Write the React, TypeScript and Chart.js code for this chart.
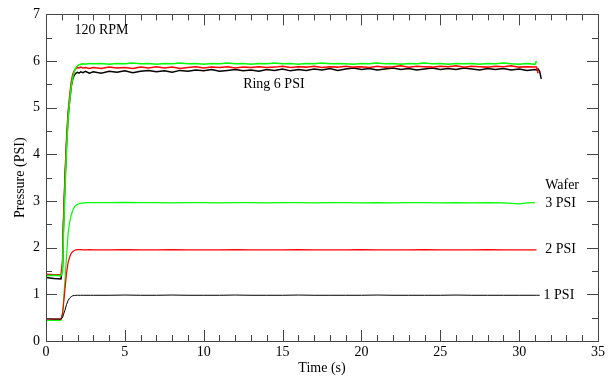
import React, { useEffect, useRef } from "react";
import { Chart, registerables } from "chart.js";

Chart.register(...registerables);

// ---- Ring pressure (top curves) ----
const ringTime = [
  0, 0.5, 0.95, 1.05, 1.1, 1.2, 1.3, 1.4, 1.5, 1.6, 1.7, 1.8, 1.9, 2.0, 2.1, 2.2, 2.35, 2.5, 2.75,
  3.0, 3.5, 4.0, 4.5, 5.0, 5.5, 6.0, 6.5, 7.0, 7.5, 8.0, 8.5, 9.0, 9.5, 10.0, 10.5, 11.0, 11.5, 12.0, 12.5,
  13.0, 13.5, 14.0, 14.5, 15.0, 15.5, 16.0, 16.5, 17.0, 17.5, 18.0, 18.5, 19.0, 19.5, 20.0, 20.5, 21.0, 21.5,
  22.0, 22.5, 23.0, 23.5, 24.0, 24.5, 25.0, 25.5, 26.0, 26.5, 27.0, 27.5, 28.0, 28.5, 29.0, 29.5, 30.0, 30.5,
  31.0, 31.1, 31.2, 31.3, 31.4,
];
const ringBlack = [
  1.36, 1.34, 1.33, 1.6, 2.4, 3.4, 4.2, 4.8, 5.15, 5.45, 5.62, 5.7, 5.74, 5.76, 5.74, 5.77, 5.75, 5.78, 5.74,
  5.77, 5.74, 5.78, 5.76, 5.79, 5.75, 5.78, 5.8, 5.77, 5.79, 5.76, 5.8, 5.78, 5.81, 5.79, 5.82, 5.78, 5.8, 5.82, 5.79,
  5.81, 5.78, 5.82, 5.8, 5.83, 5.79, 5.82, 5.8, 5.83, 5.81, 5.84, 5.8, 5.83, 5.85, 5.82, 5.84, 5.81, 5.83,
  5.85, 5.82, 5.84, 5.81, 5.83, 5.85, 5.82, 5.84, 5.82, 5.85, 5.83, 5.81, 5.84, 5.82, 5.84, 5.81, 5.83, 5.8,
  5.82, 5.81, 5.83, 5.78, 5.62,
];
const ringRed = [
  1.43, 1.42, 1.42, 1.7, 2.5, 3.5, 4.3, 4.9, 5.25, 5.55, 5.72, 5.8, 5.84, 5.86, 5.85, 5.87, 5.85, 5.86, 5.84,
  5.86, 5.84, 5.87, 5.85, 5.86, 5.84, 5.87, 5.85, 5.88, 5.85, 5.87, 5.84, 5.86, 5.88, 5.85, 5.87, 5.86, 5.88, 5.85, 5.87,
  5.86, 5.88, 5.86, 5.87, 5.89, 5.86, 5.88, 5.87, 5.89, 5.86, 5.88, 5.87, 5.89, 5.87, 5.88, 5.86, 5.89, 5.87,
  5.88, 5.9, 5.87, 5.89, 5.88, 5.87, 5.89, 5.88, 5.9, 5.87, 5.89, 5.88, 5.87, 5.89, 5.88, 5.9, 5.87, 5.88,
  5.87, 5.87, 5.74, null, null,
];
const ringGreen = [
  1.4, 1.41, 1.4, 1.5, 2.2, 3.2, 4.1, 4.75, 5.15, 5.45, 5.65, 5.78, 5.86, 5.9, 5.92, 5.93, 5.94, 5.93, 5.95,
  5.94, 5.95, 5.93, 5.95, 5.94, 5.96, 5.94, 5.95, 5.93, 5.95, 5.94, 5.96, 5.94, 5.95, 5.93, 5.95, 5.94, 5.96, 5.94, 5.95,
  5.93, 5.95, 5.94, 5.96, 5.94, 5.95, 5.93, 5.95, 5.94, 5.96, 5.94, 5.95, 5.94, 5.93, 5.95, 5.94, 5.96, 5.94,
  5.95, 5.93, 5.95, 5.94, 5.96, 5.94, 5.95, 5.93, 5.95, 5.94, 5.95, 5.93, 5.95, 5.94, 5.96, 5.94, 5.93, 5.95,
  5.93, 6.0, null, null, null,
];

// ---- Wafer pressure (lower curves) ----
const waferTime = [
  0, 0.5, 0.95, 1.05, 1.1, 1.2, 1.3, 1.4, 1.5, 1.6, 1.7, 1.8, 1.9, 2.0, 2.2, 2.4, 2.6, 2.8, 3.0,
  4, 5, 6, 7, 8, 9, 10, 11, 12, 13, 14, 15, 16, 17, 18, 19, 20, 21, 22, 23, 24, 25, 26, 27, 28, 29, 30, 30.5, 31.0, 31.1, 31.3,
];
const waferBlack = [
  0.48, 0.47, 0.47, 0.5, 0.56, 0.66, 0.78, 0.87, 0.92, 0.95, 0.97, 0.975, 0.98, 0.98, 0.98, 0.98, 0.98, 0.98, 0.98,
  0.98, 0.985, 0.98, 0.98, 0.985, 0.98, 0.98, 0.98, 0.985, 0.98, 0.98, 0.98, 0.985, 0.98, 0.98, 0.98, 0.98, 0.985, 0.98, 0.98, 0.98, 0.98, 0.985, 0.98, 0.98, 0.98, 0.98, 0.98, 0.98, 0.98, 0.98,
];
const waferRed = [
  0.47, 0.47, 0.47, 0.6, 0.75, 1.1, 1.45, 1.68, 1.8, 1.88, 1.92, 1.94, 1.955, 1.96, 1.96, 1.955, 1.955, 1.96, 1.955,
  1.955, 1.96, 1.955, 1.955, 1.96, 1.955, 1.955, 1.955, 1.96, 1.955, 1.955, 1.955, 1.96, 1.955, 1.955, 1.955, 1.96, 1.955, 1.955, 1.955, 1.96, 1.955, 1.955, 1.955, 1.96, 1.955, 1.955, 1.955, 1.955, 1.955, null,
];
const waferGreen = [
  0.44, 0.44, 0.44, 0.55, 0.8, 1.3, 1.8, 2.3, 2.55, 2.7, 2.8, 2.87, 2.91, 2.93, 2.95, 2.96, 2.965, 2.965, 2.965,
  2.965, 2.97, 2.965, 2.965, 2.96, 2.965, 2.965, 2.96, 2.965, 2.965, 2.96, 2.965, 2.965, 2.96, 2.965, 2.965, 2.96, 2.965, 2.96, 2.965, 2.965, 2.96, 2.965, 2.96, 2.965, 2.96, 2.94, 2.96, 2.965, null, null,
];

// ---- Axis settings ----
const xMin = 0;
const xMax = 35;
const xMajorStep = 5;
const xMinorPerMajor = 5;
const yMin = 0;
const yMax = 7;
const yMajorStep = 1;
const yMinorPerMajor = 2;

// ---- Text annotations (data coordinates) ----
const annotationTexts = ["120 RPM", "Ring 6 PSI", "Wafer", "3 PSI", "2 PSI", "1 PSI"];
const annotationX = [1.8, 12.5, 31.65, 31.65, 31.65, 31.55];
const annotationY = [6.66, 5.5, 3.34, 2.95, 1.97, 0.98];

const SERIF = "'Liberation Serif', 'DejaVu Serif', serif";
const GREEN = "#00ff00";
const RED = "#ff0000";
const BLACK = "#000000";

const toPoints = (xs: number[], ys: (number | null)[]) =>
  xs.map((x, i) => ({ x, y: ys[i] as number | null }));

const framePlugin = {
  id: "frameTicks",
  afterDatasetsDraw(chart: any) {
    const { ctx, chartArea, scales } = chart;
    const { left, right, top, bottom } = chartArea;
    const xs = scales.x;
    const ys = scales.y;
    ctx.save();
    ctx.strokeStyle = "#444";
    ctx.lineWidth = 1;
    ctx.beginPath();
    const majorLen = 11;
    const minorLen = 6;
    for (let v = xMin; v <= xMax + 1e-9; v += xMajorStep / xMinorPerMajor) {
      const isMajor = Math.abs(v / xMajorStep - Math.round(v / xMajorStep)) < 1e-6;
      const len = isMajor ? majorLen : minorLen;
      const px = Math.round(xs.getPixelForValue(v)) + 0.5;
      ctx.moveTo(px, bottom);
      ctx.lineTo(px, bottom - len);
      ctx.moveTo(px, top);
      ctx.lineTo(px, top + len);
    }
    for (let v = yMin; v <= yMax + 1e-9; v += yMajorStep / yMinorPerMajor) {
      const isMajor = Math.abs(v / yMajorStep - Math.round(v / yMajorStep)) < 1e-6;
      const len = isMajor ? majorLen : minorLen;
      const py = Math.round(ys.getPixelForValue(v)) + 0.5;
      ctx.moveTo(left, py);
      ctx.lineTo(left + len, py);
      ctx.moveTo(right, py);
      ctx.lineTo(right - len, py);
    }
    ctx.stroke();
    ctx.strokeRect(Math.round(left) + 0.5, Math.round(top) + 0.5, Math.round(right - left), Math.round(bottom - top));

    ctx.fillStyle = "#000";
    ctx.font = `14px ${SERIF}`;
    ctx.textAlign = "left";
    ctx.textBaseline = "middle";
    annotationTexts.forEach((t, i) => {
      ctx.fillText(t, xs.getPixelForValue(annotationX[i]), ys.getPixelForValue(annotationY[i]));
    });
    ctx.restore();
  },
};

export default function App() {
  const canvasRef = useRef<HTMLCanvasElement | null>(null);

  useEffect(() => {
    document.body.style.margin = "0";
    const canvas = canvasRef.current;
    if (!canvas) return;
    const line = (label: string, color: string, data: any[], width: number) => ({
      label,
      data,
      borderColor: color,
      backgroundColor: color,
      borderWidth: width,
      pointRadius: 0,
      tension: 0,
      fill: false,
      spanGaps: false,
    });
    const chart = new Chart(canvas, {
      type: "line",
      data: {
        datasets: [
          line("Wafer 1 PSI", BLACK, toPoints(waferTime, waferBlack), 1),
          line("Wafer 2 PSI", RED, toPoints(waferTime, waferRed), 1.2),
          line("Wafer 3 PSI", GREEN, toPoints(waferTime, waferGreen), 1.2),
          line("Ring green", GREEN, toPoints(ringTime, ringGreen), 1.5),
          line("Ring red", RED, toPoints(ringTime, ringRed), 1.5),
          line("Ring black", BLACK, toPoints(ringTime, ringBlack), 1.5),
        ],
      },
      options: {
        animation: false,
        responsive: false,
        maintainAspectRatio: false,
        layout: { padding: { top: 10, right: 12, left: 0, bottom: 0 } },
        plugins: { legend: { display: false }, tooltip: { enabled: false } },
        scales: {
          x: {
            type: "linear",
            min: xMin,
            max: xMax,
            grid: { display: false, drawTicks: false },
            border: { display: false },
            ticks: {
              stepSize: xMajorStep,
              color: "#000",
              padding: 3,
              maxRotation: 0,
              font: { family: SERIF, size: 14 },
            },
            title: {
              display: true,
              text: "Time (s)",
              color: "#000",
              font: { family: SERIF, size: 14 },
              padding: { top: 0, bottom: 0 },
            },
            afterFit: (s: any) => {
              s.height = 36;
            },
          },
          y: {
            type: "linear",
            min: yMin,
            max: yMax,
            grid: { display: false, drawTicks: false },
            border: { display: false },
            ticks: {
              stepSize: yMajorStep,
              color: "#000",
              padding: 6,
              font: { family: SERIF, size: 14 },
            },
            title: {
              display: true,
              text: "Pressure (PSI)",
              color: "#000",
              font: { family: SERIF, size: 14 },
              padding: { top: 12, bottom: 0 },
            },
            afterFit: (s: any) => {
              s.width = 46;
            },
          },
        },
      },
      plugins: [framePlugin],
    });
    return () => chart.destroy();
  }, []);

  return (
    <div style={{ width: 610, height: 377, background: "#fff" }}>
      <canvas ref={canvasRef} width={610} height={377} style={{ display: "block" }} />
    </div>
  );
}
